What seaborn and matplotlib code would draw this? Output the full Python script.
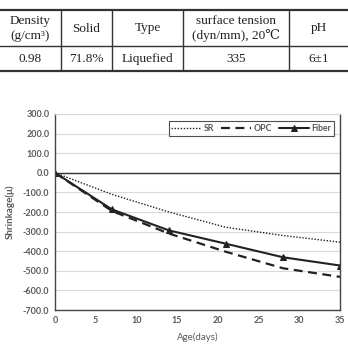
import matplotlib
matplotlib.use("Agg")
import matplotlib.pyplot as plt
import seaborn as sns
import pandas as pd
from matplotlib.lines import Line2D

# ---- data ----
days = [0, 7, 14, 21, 28, 35]
sr = [0, -110, -200, -278, -320, -354]
opc = [0, -195, -310, -403, -487, -531]
fiber = [0, -187, -294, -362, -431, -473]

table_headers = ["Density\n(g/cm\u00b3)", "Solid", "Type", "surface tension\n(dyn/mm), 20\u2103", "pH"]
table_values = ["0.98", "71.8%", "Liquefied", "335", "6\u00b11"]
yticks = [300, 200, 100, 0, -100, -200, -300, -400, -500, -600, -700]
xticks = [0, 5, 10, 15, 20, 25, 30, 35]

sns.set_theme(style="white")
plt.rcParams['font.family'] = ['Lato', 'DejaVu Sans']

W, H = 348, 345
fig = plt.figure(figsize=(W / 100, H / 100), dpi=100)

def fx(px):
    return px / W

def fy(py):
    return 1 - py / H

# ---- table ----
col_edges = [0, 61, 112, 183, 289, 348]
row_lines = [10, 46, 71]
for yy, lw in zip(row_lines, [1.6, 1.0, 1.6]):
    fig.add_artist(Line2D([0, 1], [fy(yy), fy(yy)], color="#333333", lw=lw,
                          transform=fig.transFigure))
for xx in col_edges[1:-1]:
    fig.add_artist(Line2D([fx(xx), fx(xx)], [fy(10), fy(71)], color="#333333", lw=1.0,
                          transform=fig.transFigure))
serif = ['Liberation Serif', 'DejaVu Serif']
for i in range(5):
    cx = (col_edges[i] + col_edges[i + 1]) / 2
    fig.text(fx(cx), fy(28.5), table_headers[i], ha="center", va="center",
             fontsize=9.5, family=serif, color="#222222", linespacing=1.3)
    fig.text(fx(cx), fy(59), table_values[i], ha="center", va="center",
             fontsize=9.5, family=serif, color="#222222")

# ---- chart ----
df = pd.DataFrame({"day": days, "SR": sr, "OPC": opc, "Fiber": fiber})
ax = fig.add_axes([fx(55), fy(310), fx(340) - fx(55), fy(114) - fy(310)])

sns.lineplot(data=df, x="day", y="SR", ax=ax, color="#222222", lw=1.0,
             linestyle=(0, (1, 1.2)), label="SR")
sns.lineplot(data=df, x="day", y="OPC", ax=ax, color="#222222", lw=1.6,
             linestyle=(0, (4, 2.5)), label="OPC")
sns.lineplot(data=df, x="day", y="Fiber", ax=ax, color="#222222", lw=1.5,
             marker="^", markersize=5, markeredgecolor="#222222", label="Fiber")

ax.set_xlim(0, 35)
ax.set_ylim(-700, 300)
ax.set_xticks(xticks)
ax.set_yticks(yticks)
ax.set_yticklabels([f"{v:.1f}" for v in yticks])
ax.grid(axis="y", color="#d9d9d9", lw=0.8)
ax.grid(axis="x", visible=False)
ax.axhline(0, color="#333333", lw=1.0, zorder=1)
for side in ["left", "bottom", "right"]:
    ax.spines[side].set_color("#444444")
    ax.spines[side].set_linewidth(1.0)
ax.spines["top"].set_color("#d9d9d9")
ax.spines["top"].set_linewidth(0.8)
ax.tick_params(axis="both", length=0, labelsize=6.5, labelcolor="#595959", pad=4)
for lab in ax.get_xticklabels() + ax.get_yticklabels():
    lab.set_fontweight("bold")
ax.set_xlabel("Age(days)", fontsize=7, color="#595959", labelpad=6)
ax.set_ylabel("Shrinkage(\u03bc)", fontsize=7, color="#595959", fontweight="bold", labelpad=6)

leg = ax.legend(loc="upper right", ncol=3, fontsize=6.3, frameon=True, fancybox=False,
                edgecolor="#222222", handlelength=3.4, handletextpad=0.3, columnspacing=0.8,
                borderpad=0.3, bbox_to_anchor=(0.993, 0.985))
leg.get_frame().set_linewidth(0.8)
for t in leg.get_texts():
    t.set_color("#595959")
    t.set_fontweight("bold")

fig.savefig("out.png", dpi=100, facecolor="white")
